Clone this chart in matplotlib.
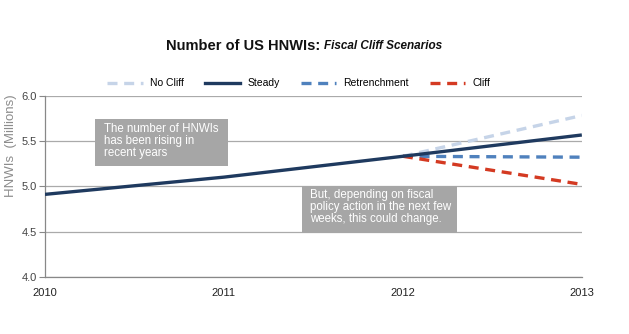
import matplotlib
matplotlib.use("Agg")
import matplotlib.pyplot as plt
from matplotlib.patches import Rectangle
from matplotlib.lines import Line2D

plt.rcParams['font.family'] = ['Liberation Sans', 'DejaVu Sans']

years = [2010, 2011, 2012, 2013]
steady = [4.91, 5.10, 5.33, 5.565]
scen_years = [2012, 2013]
no_cliff = [5.33, 5.78]
retrenchment = [5.33, 5.32]
cliff = [5.33, 5.02]
yticks = [4.0, 4.5, 5.0, 5.5, 6.0]

c_nocliff = '#C6D4E8'
c_steady = '#1F3A5F'
c_retr = '#4F81BD'
c_cliff = '#D43A22'

fig = plt.figure(figsize=(6.29, 3.34), dpi=100)
ax = fig.add_axes([0.0715, 0.171, 0.8535, 0.543])

ax.plot(scen_years, no_cliff, color=c_nocliff, lw=2.4, ls=(0, (3, 2)), zorder=3)
ax.plot(years, steady, color=c_steady, lw=2.4, zorder=4, solid_capstyle='butt')
ax.plot(scen_years, retrenchment, color=c_retr, lw=2.4, ls=(0, (3, 2)), zorder=3)
ax.plot(scen_years, cliff, color=c_cliff, lw=2.4, ls=(0, (3, 2)), zorder=3)

ax.set_xlim(2010, 2013)
ax.set_ylim(4.0, 6.0)
ax.set_xticks(years)
ax.set_xticklabels([str(y) for y in years], fontsize=8, color='#222222')
ax.set_yticks(yticks)
ax.set_yticklabels(['%.1f' % v for v in yticks], fontsize=8, color='#444444')
ax.tick_params(axis='x', length=0, pad=8)
ax.tick_params(axis='y', length=4, color='#888888', pad=2)
ax.yaxis.grid(True, color='#AAAAAA', lw=0.9)
ax.set_axisbelow(True)
for s in ['top', 'right']:
    ax.spines[s].set_visible(False)
for s in ['left', 'bottom']:
    ax.spines[s].set_color('#888888')
    ax.spines[s].set_linewidth(0.9)

fig.text(0.017, 0.565, 'HNWIs  (Millions)', rotation=90, fontsize=9.5,
         color='#8C8C8C', ha='center', va='center')

# annotation boxes
box_col = '#A6A6A6'
ax.add_patch(Rectangle((2010.28, 5.22), 0.74, 0.52, facecolor=box_col,
                       edgecolor='none', zorder=5, clip_on=False))
ax.text(2010.33, 5.70, 'The number of HNWIs\nhas been rising in\nrecent years',
        fontsize=8.3, color='white', ha='left', va='top', linespacing=1.0, zorder=6)
ax.add_patch(Rectangle((2011.435, 4.485), 0.865, 0.515, facecolor=box_col,
                       edgecolor='none', zorder=5, clip_on=False))
ax.text(2011.48, 4.965, 'But, depending on fiscal\npolicy action in the next few\nweeks, this could change.',
        fontsize=8.3, color='white', ha='left', va='top', linespacing=1.0, zorder=6)

# title
fig.text(0.515, 0.862, 'Number of US HNWIs: ', fontsize=10.5, fontweight='bold',
         ha='right', va='center', color='#111111')
fig.text(0.515, 0.862, 'Fiscal Cliff Scenarios', fontsize=8.5, fontweight='bold',
         style='italic', ha='left', va='center', color='#111111')

handles = [
    Line2D([], [], color=c_nocliff, lw=2.4, ls=(0, (3, 2))),
    Line2D([], [], color=c_steady, lw=2.4),
    Line2D([], [], color=c_retr, lw=2.4, ls=(0, (3, 2))),
    Line2D([], [], color=c_cliff, lw=2.4, ls=(0, (3, 2))),
]
fig.legend(handles, ['No Cliff', 'Steady', 'Retrenchment', 'Cliff'],
           loc='center', bbox_to_anchor=(0.475, 0.75), ncol=4, frameon=False,
           fontsize=7.5, handlelength=3.4, columnspacing=2.0, handletextpad=0.7)

fig.savefig('out.png', dpi=100)
